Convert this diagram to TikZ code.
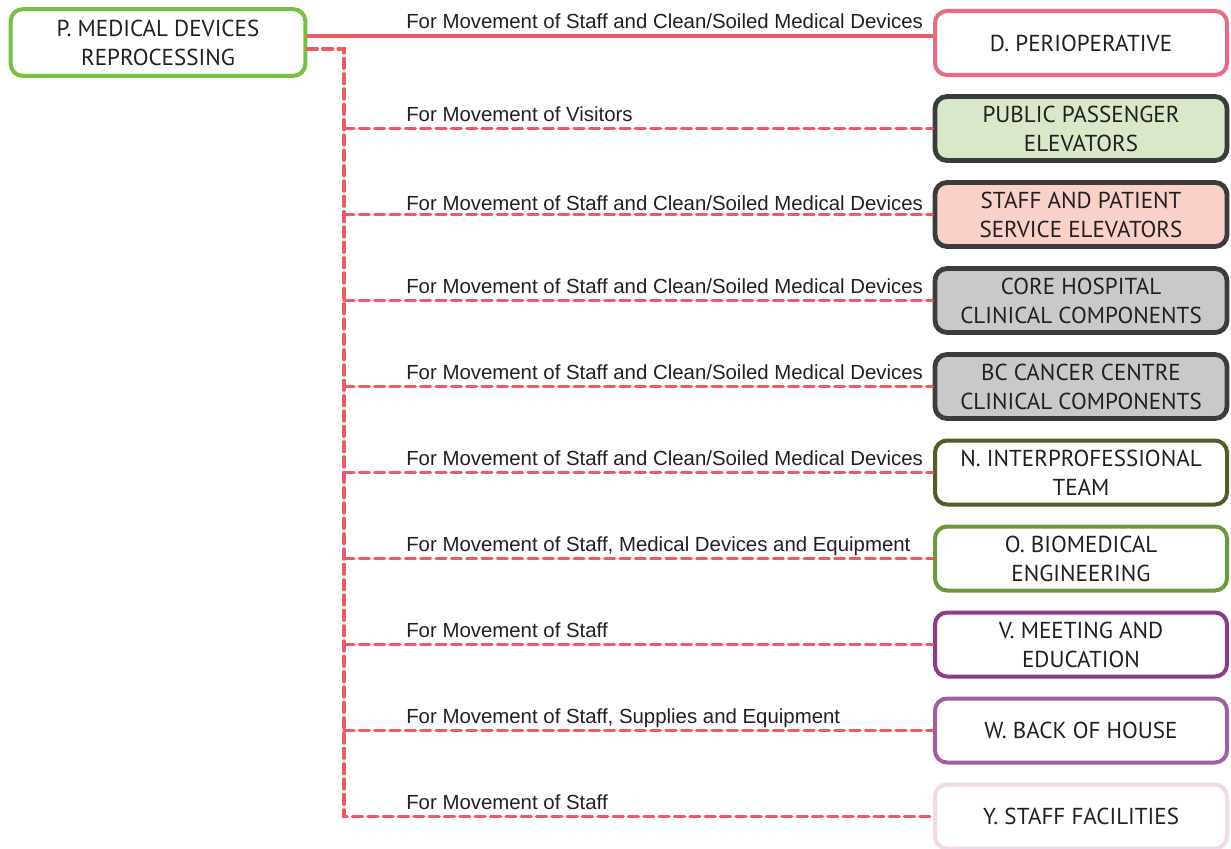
\documentclass[tikz,border=0pt]{standalone}
\usepackage{fontspec}
\setmainfont{PT Sans}
\newfontfamily\labelfont{Liberation Sans}
\definecolor{txt}{HTML}{231F20}
\definecolor{pgreen}{HTML}{77BF43}
\definecolor{dpink}{HTML}{EC6A80}
\definecolor{linkred}{HTML}{EF5A62}
\definecolor{darkedge}{HTML}{3C3C3C}
\definecolor{pubfill}{HTML}{D9E8C9}
\definecolor{stafffill}{HTML}{F9D1C9}
\definecolor{corefill}{HTML}{C9C9C9}
\definecolor{nolive}{HTML}{4E5E26}
\definecolor{ogreen}{HTML}{6A9A3A}
\definecolor{vpurple}{HTML}{8E3A86}
\definecolor{wpurple}{HTML}{A25E9E}
\definecolor{ypink}{HTML}{F0D9E8}
\tikzset{
  box/.style={draw, rounded corners=9pt, line width=3pt, fill=white,
    minimum width=219pt, minimum height=48pt, inner sep=0pt,
    align=center, text=txt, font=\fontsize{17.3}{21.8}\selectfont},
  darkbox/.style={box, draw=darkedge, line width=3.6pt},
  link/.style={draw=linkred, line width=2.4pt},
  dlink/.style={link, dash pattern=on 7.5pt off 4pt, line cap=round},
  lab/.style={anchor=base west, inner sep=0pt, text=txt,
    font=\labelfont\fontsize{15.3}{18}\selectfont}
}
\begin{document}
\begin{tikzpicture}[x=0.75pt, y=-0.75pt]
\useasboundingbox (0,0) rectangle (1231,849);

% source department
\node[box, draw=pgreen, minimum width=221pt, minimum height=50pt] (p) at (158,42.5)
  {P. MEDICAL DEVICES\\REPROCESSING};

% destination departments
\node[box, draw=dpink] (d) at (1081,43) {D. PERIOPERATIVE};
\node[darkbox, fill=pubfill] (pub) at (1081,128.5) {PUBLIC PASSENGER\\ELEVATORS};
\node[darkbox, fill=stafffill] (sp) at (1081,214.5) {STAFF AND PATIENT\\SERVICE ELEVATORS};
\node[darkbox, fill=corefill] (core) at (1081,300.5) {CORE HOSPITAL\\CLINICAL COMPONENTS};
\node[darkbox, fill=corefill] (bc) at (1081,386.5) {BC CANCER CENTRE\\CLINICAL COMPONENTS};
\node[box, draw=nolive] (n) at (1081,472.5) {N. INTERPROFESSIONAL\\TEAM};
\node[box, draw=ogreen] (o) at (1081,558.5) {O. BIOMEDICAL\\ENGINEERING};
\node[box, draw=vpurple] (v) at (1081,644.5) {V. MEETING AND\\EDUCATION};
\node[box, draw=wpurple] (w) at (1081,730.5) {W. BACK OF HOUSE};
\node[box, draw=ypink] (y) at (1081,816.5) {Y. STAFF FACILITIES};

% solid link
\draw[link] (p.east |- 0,36) -- (d.west |- 0,36);
\node[lab] (l0) at (406,29) {For Movement of Staff and Clean/Soiled Medical Devices};

% dashed trunk
\coordinate (top) at (344,49);
\draw[dlink] (p.east |- top) -- (top) -- (top |- y.west) -- (y.west);

% dashed branches
\foreach \t in {pub,sp,core,bc,n,o,v,w}
  \draw[dlink] (top |- \t.west) -- (\t.west);

% link labels
\node[lab] (l1) at (406,122) {For Movement of Visitors};
\node[lab] (l2) at (406,210) {For Movement of Staff and Clean/Soiled Medical Devices};
\node[lab] (l3) at (406,293) {For Movement of Staff and Clean/Soiled Medical Devices};
\node[lab] (l4) at (406,379) {For Movement of Staff and Clean/Soiled Medical Devices};
\node[lab] (l5) at (406,465) {For Movement of Staff and Clean/Soiled Medical Devices};
\node[lab] (l6) at (406,551) {For Movement of Staff, Medical Devices and Equipment};
\node[lab] (l7) at (406,637) {For Movement of Staff};
\node[lab] (l8) at (406,723) {For Movement of Staff, Supplies and Equipment};
\node[lab] (l9) at (406,809) {For Movement of Staff};
\end{tikzpicture}
\end{document}
